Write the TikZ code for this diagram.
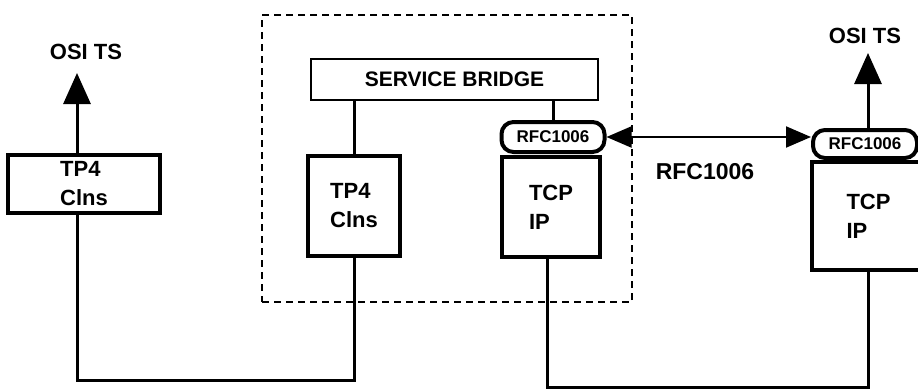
\documentclass[tikz,border=0pt]{standalone}
\usepackage{fontspec}
\setmainfont{Liberation Sans}
\usetikzlibrary{arrows.meta}
\begin{document}
\begin{tikzpicture}[x=1pt,y=-1pt,
  lbl/.style={font=\fontsize{22}{29}\selectfont\bfseries, inner sep=0pt},
  stackbox/.style={draw, line width=4.5pt, align=left, inner sep=0pt,
    font=\fontsize{22}{29}\selectfont\bfseries},
  bridgebox/.style={draw, line width=2.5pt, inner sep=0pt,
    font=\fontsize{21}{25}\selectfont\bfseries},
  rfcbox/.style={draw, line width=4pt, rounded corners=12pt, inner sep=0pt,
    font=\fontsize{17}{20}\selectfont\bfseries},
  wire/.style={line width=3pt},
  dashbox/.style={draw, line width=2pt, dash pattern=on 7pt off 5pt, inner sep=0pt},
  upar/.style={line width=3pt, -{Triangle[length=31pt,width=27pt]}},
  dblar/.style={line width=2pt, {Triangle[length=25pt,width=21pt]}-{Triangle[length=25pt,width=21pt]}}
]
\useasboundingbox (0,0) rectangle (918,391);

% service bridge enclosure
\node[dashbox, minimum width=370pt, minimum height=287pt] (encl) at (447,158.5) {};

% left station
\node[lbl] (osiL) at (86,52) {OSI TS};
\node[stackbox, minimum width=152pt, minimum height=58pt] (tp4L) at (84,184) {TP4\\Clns};

% service bridge
\node[bridgebox, minimum width=287pt, minimum height=41pt] (bridge) at (454.5,79.5) {SERVICE BRIDGE};
\node[stackbox, minimum width=92pt, minimum height=100pt] (tp4M) at (354,206) {TP4\\Clns};
\node[rfcbox, minimum width=103pt, minimum height=30pt] (rfcL) at (553,137) {RFC1006};
\node[stackbox, minimum width=98pt, minimum height=100pt] (tcpM) at (551,207) {TCP\\IP};

% right station
\node[lbl] (osiR) at (865,36) {OSI TS};
\node[rfcbox, minimum width=104pt, minimum height=28pt] (rfcR) at (865,144) {RFC1006};
\node[stackbox, minimum width=113pt, minimum height=108pt] (tcpR) at (868.5,216) {TCP\\IP};

% label
\node[lbl, font=\fontsize{23}{28}\selectfont\bfseries] (rfclbl) at (705,172) {RFC1006};

% coordinates for free ends
\coordinate (aL) at (77,73);
\coordinate (aR) at (868,53);
\coordinate (bL) at (77,380);
\coordinate (bR) at (547,387);

% arrows to OSI TS
\draw[upar] (aL |- tp4L.north) -- (aL);
\draw[upar] (aR |- rfcR.north) -- (aR);

% bridge links
\draw[wire] (tp4M.north) -- (tp4M.north |- bridge.south);
\draw[wire] (rfcL.north) -- (rfcL.north |- bridge.south);

% RFC1006 peer link
\draw[dblar] (rfcL.east) -- (rfcL.east -| rfcR.west);

% network links
\draw[wire] (bL |- tp4L.south) -- (bL) -| (tp4M.south);
\draw[wire] (bR |- tcpM.south) -- (bR) -| (tcpR.south);
\end{tikzpicture}
\end{document}
